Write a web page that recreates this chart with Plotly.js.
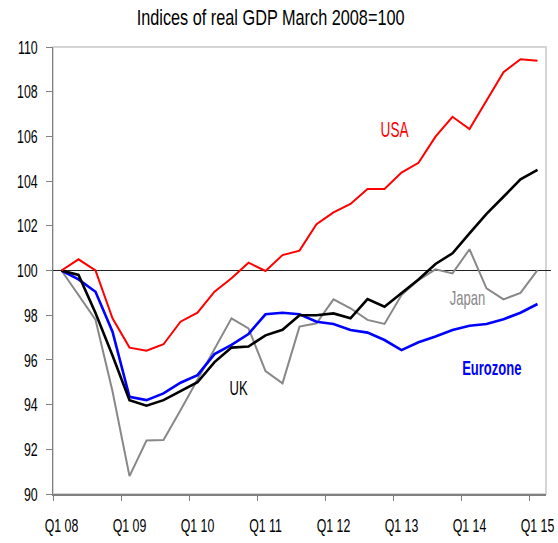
<!DOCTYPE html>
<html>
<head>
<meta charset="utf-8">
<script src="https://cdn.plot.ly/plotly-3.0.1.min.js"></script>
<style>
html,body{margin:0;padding:0;background:#fff;}
#chart{width:558px;height:543px;}
</style>
</head>
<body>
<div id="chart"></div>
<script>
// Quarters Q1 2008 .. Q1 2015 (29 quarters)
const quarters = ["Q1 08","Q2 08","Q3 08","Q4 08","Q1 09","Q2 09","Q3 09","Q4 09","Q1 10","Q2 10","Q3 10","Q4 10","Q1 11","Q2 11","Q3 11","Q4 11","Q1 12","Q2 12","Q3 12","Q4 12","Q1 13","Q2 13","Q3 13","Q4 13","Q1 14","Q2 14","Q3 14","Q4 14","Q1 15"];
const tickLabels = ["Q1 08","Q1 09","Q1 10","Q1 11","Q1 12","Q1 13","Q1 14","Q1 15"];

const usa = [100,100.5,100.0,97.86,96.55,96.41,96.70,97.71,98.11,99.05,99.65,100.35,99.98,100.69,100.89,102.07,102.6,102.98,103.65,103.65,104.38,104.82,105.99,106.88,106.33,107.63,108.87,109.45,109.39];
const uk = [100,99.8,98.1,96.2,94.2,93.95,94.2,94.6,95.0,95.9,96.55,96.6,97.1,97.35,98.0,98.0,98.08,97.86,98.72,98.38,98.98,99.6,100.29,100.77,101.66,102.53,103.3,104.08,104.5];
const japan = [100,98.9,97.8,94.6,90.8,92.39,92.42,93.75,95.1,96.5,97.86,97.41,95.5,94.95,97.49,97.64,98.71,98.31,97.79,97.61,98.9,99.57,100.05,99.87,100.95,99.2,98.71,99.0,100.02];
const eurozone = [100,99.6,99.05,97.26,94.35,94.2,94.5,94.98,95.32,96.26,96.67,97.16,98.04,98.11,98.04,97.71,97.61,97.34,97.22,96.89,96.44,96.79,97.05,97.34,97.53,97.61,97.82,98.11,98.5];

const idx = quarters.map((q,i)=>i);
const tickIdx = tickLabels.map(t=>quarters.indexOf(t));
const sepTicks = tickIdx.map(i=>i-0.5);

const FONT = '"Liberation Sans",Arial,sans-serif';

const traces = [
  {x: idx, y: japan, name: "Japan", mode: "lines", line: {color: "#888888", width: 2}},
  {x: idx, y: eurozone, name: "Eurozone", mode: "lines", line: {color: "#0000ff", width: 2.6}},
  {x: idx, y: uk, name: "UK", mode: "lines", line: {color: "#000000", width: 2.6}},
  {x: idx, y: usa, name: "USA", mode: "lines", line: {color: "#ff0000", width: 2}},
  {x: [], y: [], xaxis: "x2", showlegend: false, hoverinfo: "skip"}
];

const layout = {
  width: 558, height: 543,
  margin: {l: 53, r: 12, t: 47, b: 49},
  paper_bgcolor: "#fff", plot_bgcolor: "#fff",
  showlegend: false,
  title: {text: "Indices of real GDP March 2008=100", x: 0.485, xanchor: "center", y: 0.968, yanchor: "middle",
          font: {family: FONT, size: 22, color: "#000"}},
  font: {family: FONT, color: "#000"},
  xaxis: {
    range: [-0.5, 28.5], tickvals: tickIdx, ticktext: tickLabels, ticks: "",
    showgrid: false, zeroline: false, showline: true, linecolor: "#808080", linewidth: 1.5,
    tickfont: {family: FONT, size: 19, color: "#000"}, ticklabelstandoff: 14, ticklabeloverflow: "allow"
  },
  xaxis2: {
    range: [-0.5, 28.5], overlaying: "x", anchor: "y", side: "bottom",
    tickvals: sepTicks, showticklabels: false, ticks: "outside", ticklen: 6, tickcolor: "#808080", tickwidth: 1,
    showgrid: false, zeroline: false, showline: false
  },
  yaxis: {
    range: [90, 110], dtick: 2, tick0: 90, ticks: "outside", ticklen: 6, tickcolor: "#808080",
    showgrid: false, zeroline: false, showline: true, linecolor: "#808080", linewidth: 1.5,
    tickfont: {family: FONT, size: 19, color: "#000"}, ticklabelstandoff: 4, ticklabeloverflow: "allow"
  },
  shapes: [
    {type: "rect", xref: "paper", yref: "paper", x0: 0, x1: 1, y0: 0, y1: 1, line: {color: "#c8c8c8", width: 1.5}, layer: "below"},
    {type: "line", xref: "paper", yref: "y", x0: 0, x1: 1.01, y0: 100, y1: 100, line: {color: "#222", width: 1}, layer: "below"}
  ],
  annotations: [
    {text: "USA", x: 19.6, y: 106.3, xref: "x", yref: "y", showarrow: false, font: {family: FONT, size: 22, color: "#ff0000"}},
    {text: "UK", x: 10.44, y: 94.77, xref: "x", yref: "y", showarrow: false, font: {family: FONT, size: 21, color: "#000"}},
    {text: "Japan", x: 23.9, y: 98.77, xref: "x", yref: "y", showarrow: false, font: {family: FONT, size: 21, color: "#888888"}},
    {text: "<b>Eurozone</b>", x: 25.3, y: 95.66, xref: "x", yref: "y", showarrow: false, font: {family: FONT, size: 21, color: "#0000ff"}}
  ]
};

// narrow the lettering (reference uses a condensed face) around each text's own anchor
function narrowText(gd) {
  gd.querySelectorAll("svg text").forEach(t => {
    const x = parseFloat(t.getAttribute("x") || "0");
    let sx = 0.65;
    if (t.classList.contains("gtitle")) sx = 0.74;
    else if (t.classList.contains("annotation-text")) sx = 0.62;
    const tr = t.getAttribute("transform") || "";
    t.setAttribute("transform", (tr + " translate(" + x + ",0) scale(" + sx + ",1) translate(" + (-x) + ",0)").trim());
  });
}

Plotly.newPlot("chart", traces, layout, {staticPlot: true, displayModeBar: false}).then(narrowText);
</script>
</body>
</html>
